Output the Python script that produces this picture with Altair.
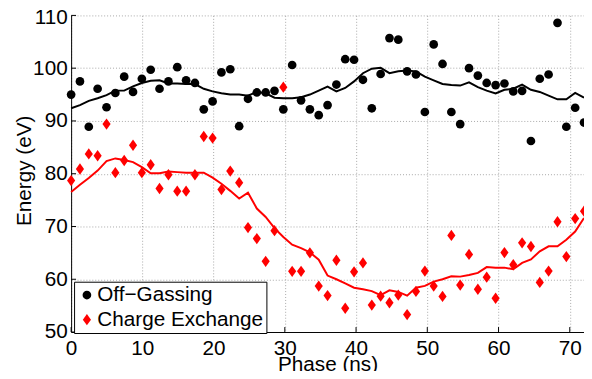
import altair as alt
import pandas as pd

phase = [0.0, 1.24, 2.48, 3.72, 4.97, 6.21, 7.45, 8.69, 9.93, 11.17,
         12.41, 13.66, 14.9, 16.14, 17.38, 18.62, 19.86, 21.1, 22.34, 23.59,
         24.83, 26.07, 27.31, 28.55, 29.79, 31.03, 32.28, 33.52, 34.76, 36.0,
         37.24, 38.48, 39.72, 40.97, 42.21, 43.45, 44.69, 45.93, 47.17, 48.41,
         49.66, 50.9, 52.14, 53.38, 54.62, 55.86, 57.1, 58.34, 59.59, 60.83,
         62.07, 63.31, 64.55, 65.79, 67.03, 68.28, 69.52, 70.76, 72.0]

off_gassing = [95.0, 97.5, 88.9, 96.1, 92.6, 95.3, 98.4, 95.5, 98.0, 99.7,
               96.1, 97.5, 100.2, 97.7, 97.2, 92.2, 93.7, 99.2, 99.8, 89.0,
               94.2, 95.4, 95.4, 95.7, 92.2, 100.6, 93.9, 92.2, 91.1, 93.0,
               96.9, 101.7, 101.6, 97.8, 92.4, 98.9, 105.7, 105.4, 99.4, 98.8,
               91.7, 104.5, 100.8, 91.7, 89.4, 100.0, 98.6, 97.2, 96.8, 97.1,
               95.6, 95.7, 86.2, 98.0, 98.8, 108.6, 88.9, 92.5, 89.7]

charge_exchange = [78.7, 80.9, 83.75, 83.4, 89.4, 80.2, 82.5, 85.4, 80.2, 81.7,
                   77.2, 79.8, 76.7, 76.7, 79.8, 87.05, 86.75, 77.0, 80.5, 78.3,
                   69.8, 67.7, 63.4, 69.2, 96.4, 61.5, 61.5, 65.0, 58.7, 56.9,
                   63.6, 54.5, 61.4, 63.1, 55.1, 56.8, 55.55, 57.0, 53.3, 57.7,
                   61.55, 58.7, 56.75, 68.3, 58.9, 64.7, 58.1, 60.4, 56.4, 65.05,
                   62.75, 66.9, 66.2, 59.4, 61.55, 70.9, 64.3, 71.5, 72.9]

off_gassing_fit = [92.4, 93.0, 93.8, 94.3, 94.9, 95.75, 95.75, 96.55, 97.2, 97.6,
                   97.7, 97.1, 97.1, 97.0, 97.0, 96.1, 95.6, 95.25, 95.0, 95.0,
                   94.8, 95.5, 95.25, 94.4, 94.3, 94.3, 94.5, 95.0, 95.75, 96.5,
                   95.6, 96.25, 97.5, 99.05, 99.9, 100.06, 99.05, 99.4, 99.55, 99.4,
                   98.4, 97.7, 97.0, 96.8, 96.7, 97.3, 96.4, 95.75, 95.2, 95.9,
                   96.1, 96.9, 95.9, 95.5, 94.8, 94.1, 94.1, 95.3, 94.4]

charge_exchange_fit = [76.55, 77.9, 79.2, 80.6, 82.4, 82.9, 82.6, 82.2, 81.25, 80.1,
                       80.1, 80.4, 80.3, 80.2, 80.2, 80.2, 79.25, 78.1, 76.75, 75.3,
                       76.4, 73.4, 71.8, 69.7, 68.0, 66.55, 65.9, 65.1, 63.7, 60.7,
                       60.0, 59.2, 58.4, 58.1, 57.75, 57.0, 57.9, 57.6, 56.9, 58.4,
                       58.75, 59.55, 60.0, 60.55, 60.5, 60.8, 61.2, 62.3, 62.2, 62.2,
                       61.9, 63.1, 63.75, 65.3, 66.25, 66.25, 67.5, 69.05, 71.6]

series_names = ["Off\u2212Gassing", "Charge Exchange"]
x_ticks = [0, 10, 20, 30, 40, 50, 60, 70]
y_ticks = [50, 60, 70, 80, 90, 100, 110]

n = len(phase)
pts = pd.DataFrame({
    "phase": phase + phase,
    "energy": off_gassing + charge_exchange,
    "series": [series_names[0]] * n + [series_names[1]] * n,
})
fit_og = pd.DataFrame({"phase": phase, "energy": off_gassing_fit})
fit_ce = pd.DataFrame({"phase": phase, "energy": charge_exchange_fit})

FONT = "Liberation Sans"
FS = 21
diamond = "M0,-1L0.72,0L0,1L-0.72,0Z"

xscale = alt.Scale(domain=[0, 72], nice=False, zero=False)
yscale = alt.Scale(domain=[50, 110], nice=False, zero=False)

xaxis = alt.Axis(title="Phase (ns)", values=x_ticks, format="d", grid=True,
                 ticks=False, labelPadding=6, labelFlush=False, labelOverlap=False,
                 titleY=39, titleBaseline="alphabetic")
yaxis = alt.Axis(title="Energy (eV)", values=y_ticks, format="d", grid=True,
                 ticks=False, labelPadding=4, labelFlush=False, labelOverlap=False,
                 labelOffset={"condition": {"test": "datum.value == 110", "value": 2.5}, "value": 0},
                 titleX=-41, titleY=157, titleAngle=-90, titleBaseline="alphabetic",
                 titleAlign="center")

line_og = alt.Chart(fit_og).mark_line(strokeWidth=2, color="#000000").encode(
    x=alt.X("phase:Q", scale=xscale, axis=xaxis),
    y=alt.Y("energy:Q", scale=yscale, axis=yaxis),
)
line_ce = alt.Chart(fit_ce).mark_line(strokeWidth=2, color="#ff0000").encode(
    x=alt.X("phase:Q", scale=xscale),
    y=alt.Y("energy:Q", scale=yscale),
)

leg = alt.Legend(title=None)
points = alt.Chart(pts).mark_point(filled=True, opacity=1).encode(
    x=alt.X("phase:Q", scale=xscale),
    y=alt.Y("energy:Q", scale=yscale),
    color=alt.Color("series:N", scale=alt.Scale(domain=series_names, range=["#000000", "#ff0000"]),
                    legend=leg),
    shape=alt.Shape("series:N", scale=alt.Scale(domain=series_names, range=["circle", diamond]),
                    legend=leg),
    size=alt.Size("series:N", scale=alt.Scale(domain=series_names, range=[78, 132]), legend=leg),
)

xt = pd.DataFrame({"v": x_ticks})
yt = pd.DataFrame({"v": y_ticks})
xticks = alt.Chart(xt).mark_rule(color="black", strokeWidth=1).encode(
    x=alt.X("v:Q", scale=xscale), y=alt.value(321), y2=alt.value(316))
yticks = alt.Chart(yt).mark_rule(color="black", strokeWidth=1).encode(
    y=alt.Y("v:Q", scale=yscale), x=alt.value(0), x2=alt.value(5))

chart = alt.layer(line_og, line_ce, xticks, yticks, points).properties(
    width=520, height=321,
    autosize=alt.AutoSizeParams(type="none"),
    padding={"left": 64, "top": 5, "right": 0, "bottom": 37},
).configure_view(stroke=None).configure_axis(
    labelFont=FONT, labelFontSize=FS, labelColor="black",
    titleFont=FONT, titleFontSize=FS, titleColor="black", titleFontWeight="normal",
    domainColor="black", domainWidth=1,
    gridColor="#a8a8a8", gridDash=[1, 2], gridWidth=1, gridOpacity=1,
).configure_legend(
    orient="none", legendX=3, legendY=270,
    strokeColor="black", fillColor="white", strokeWidth=1,
    padding=3, rowPadding=3, symbolOffset=-0.5, labelOffset=0,
    labelFont=FONT, labelFontSize=FS, labelColor="black", labelLimit=300,
    symbolStrokeWidth=0,
)

chart.save("out.html", embed_options={"renderer": "svg", "actions": False})
